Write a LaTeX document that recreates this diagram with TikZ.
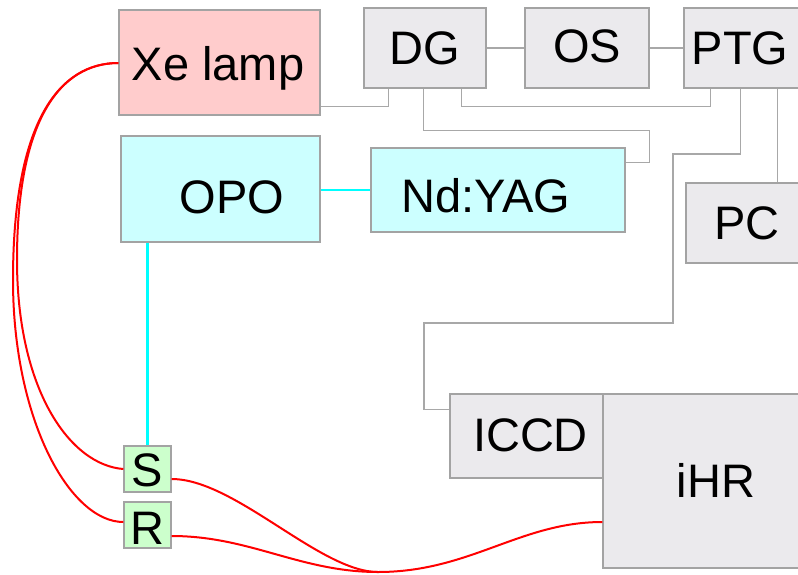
\documentclass[tikz,border=0pt]{standalone}
\usepackage{fontspec}
\setmainfont{Liberation Sans}
\usetikzlibrary{calc}
\definecolor{boxgray}{HTML}{EBEAED}
\definecolor{edgegray}{HTML}{A3A3A3}
\definecolor{wiregray}{HTML}{A8A8A8}
\definecolor{lampfill}{HTML}{FFCCCC}
\definecolor{laserfill}{HTML}{CCFFFF}
\definecolor{portfill}{HTML}{CCFFCC}
\definecolor{fibre}{HTML}{FF0000}
\definecolor{beam}{HTML}{00FFFF}
\newcommand\lblfont{\fontsize{47}{56}\selectfont}
\tikzset{
  box/.style={draw=edgegray, line width=1.2pt, inner sep=0pt, rectangle},
  unit/.style={box, fill=boxgray},
  lamp/.style={box, fill=lampfill},
  laser/.style={box, fill=laserfill},
  port/.style={box, fill=portfill},
  lbl/.style={font=\lblfont, anchor=base, inner sep=0pt, text=black},
  wire/.style={draw=wiregray, line width=1.2pt},
  fibreline/.style={draw=fibre, line width=2pt},
  beamline/.style={draw=beam, line width=2.4pt},
}
\begin{document}
\begin{tikzpicture}[x=1pt, y=-1pt]
\path[use as bounding box] (0,0) rectangle (798,574);
\clip (0,0) rectangle (798,574);

% instrument boxes
\node[lamp,  minimum width=201pt, minimum height=105pt] (xe)   at (219.5,62.5) {};
\node[unit,  minimum width=122pt, minimum height=80pt]  (dg)   at (425,48) {};
\node[unit,  minimum width=124pt, minimum height=80pt]  (os)   at (587,48) {};
\node[unit,  minimum width=160pt, minimum height=80pt]  (ptg)  at (764,48) {};
\node[laser, minimum width=199pt, minimum height=106pt] (opo)  at (220.5,189) {};
\node[laser, minimum width=254pt, minimum height=84pt]  (nd)   at (498,190) {};
\node[unit,  minimum width=160pt, minimum height=80pt]  (pc)   at (766,223) {};
\node[unit,  minimum width=153pt, minimum height=84pt]  (iccd) at (526.5,436) {};
\node[unit,  minimum width=240pt, minimum height=174pt] (ihr)  at (723,481) {};
\node[port,  minimum width=47pt,  minimum height=46pt]  (s)    at (147.5,469) {};
\node[port,  minimum width=47pt,  minimum height=46pt]  (r)    at (147.5,525) {};

% labels
\node[lbl] (xe-t)   at (218,80)    {Xe lamp};
\node[lbl] (dg-t)   at (425,64)    {DG};
\node[lbl] (os-t)   at (587,62)    {OS};
\node[lbl] (ptg-t)  at (740,64)    {PTG};
\node[lbl] (opo-t)  at (232,213)   {OPO};
\node[lbl] (nd-t)   at (486,212)   {Nd:YAG};
\node[lbl] (pc-t)   at (747,239)   {PC};
\node[lbl] (iccd-t) at (530.5,451) {ICCD};
\node[lbl] (ihr-t)  at (716,497)   {iHR};
\node[lbl] (s-t)    at (147.5,486) {S};
\node[lbl] (r-t)    at (147.5,544) {R};

% trigger and timing cables
\draw[wire] (dg.east) -- (os.west);
\draw[wire] (os.east) -- (ptg.west);
\draw[wire] ($(xe.south east)+(0,-9)$) -| ($(dg.south west)+(25,0)$);
\draw[wire] ($(dg.south west)+(98,0)$) |- ($(ptg.south west)+(27,18)$) -- ($(ptg.south west)+(27,0)$);
\draw[wire] ($(dg.south west)+(60,0)$) |- ($(nd.north east)+(24,-17)$) |- ($(nd.north east)+(0,15)$);
\draw[wire] ($(ptg.south west)+(57,0)$) |- (673,154) |- (424,323) |- ($(iccd.north west)+(0,16)$);
\draw[wire] ($(ptg.south west)+(94,0)$) -- ($(pc.north west)+(92,0)$);
\draw[wire] ($(pc.south west)+(92,0)$) -- ($(pc.south west)+(92,0)$ |- ihr.north);

% laser beams
\draw[beamline] (opo.east |- nd.west) -- (nd.west);
\draw[beamline] (s.north |- opo.south) -- (s.north);

% optical fibres
\coordinate (join)  at (378,572);
\coordinate (ihrin) at (ihr.west |- 0,522);
\draw[fibreline] (xe.west |- 0,63) .. controls (60,63) and (17,120) .. (17,260)
                 .. controls (17,390) and (70,465) .. (s.west);
\draw[fibreline] (xe.west |- 0,63) .. controls (60,63) and (13,120) .. (13,280)
                 .. controls (13,420) and (70,522) .. (r.west |- 0,522);
\draw[fibreline] (s.east |- 0,479) .. controls (235,479) and (320,572) .. (join);
\draw[fibreline] (r.east |- 0,536) .. controls (250,536) and (300,572) .. (join);
\draw[fibreline] (join) .. controls (470,572) and (520,522) .. (ihrin);
\end{tikzpicture}
\end{document}
